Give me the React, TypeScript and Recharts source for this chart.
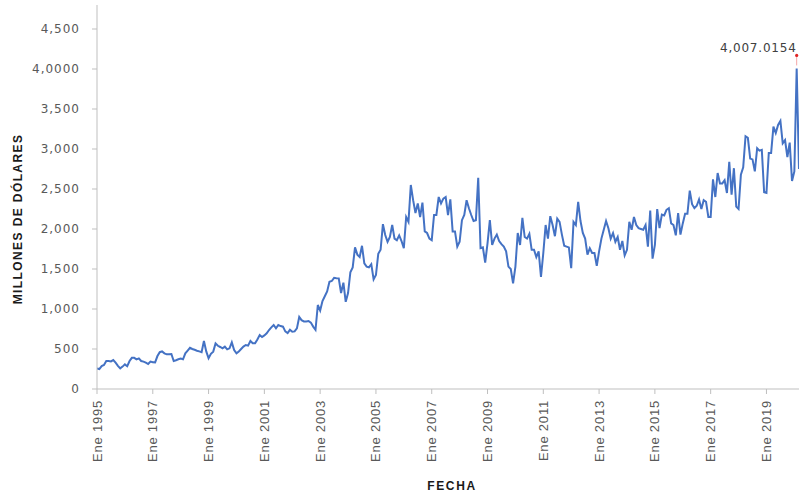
import React from "react";
import { LineChart, Line, XAxis, YAxis, LabelList } from "recharts";

const months = ["Ene", "Feb", "Mar", "Abr", "May", "Jun", "Jul", "Ago", "Sep", "Oct", "Nov", "Dic"];
const years = [1995, 1996, 1997, 1998, 1999, 2000, 2001, 2002, 2003, 2004, 2005, 2006, 2007, 2008, 2009, 2010, 2011, 2012, 2013, 2014, 2015, 2016, 2017, 2018, 2019, 2020];

const v1995 = [258, 250, 287, 300, 350, 350, 345, 362, 330, 290, 258, 280];
const v1996 = [308, 285, 350, 390, 390, 371, 383, 350, 342, 329, 312, 342];
const v1997 = [335, 333, 412, 460, 470, 446, 433, 435, 437, 350, 360, 371];
const v1998 = [380, 371, 446, 480, 515, 500, 490, 479, 470, 460, 600, 470];
const v1999 = [385, 440, 467, 570, 540, 525, 508, 530, 495, 508, 583, 487];
const v2000 = [446, 470, 500, 530, 550, 542, 600, 571, 571, 620, 675, 650];
const v2001 = [670, 696, 737, 770, 800, 758, 800, 787, 779, 720, 700, 740];
const v2002 = [715, 720, 758, 900, 860, 845, 845, 850, 830, 780, 740, 1050];
const v2003 = [980, 1100, 1160, 1220, 1340, 1350, 1390, 1385, 1383, 1200, 1330, 1090];
const v2004 = [1200, 1460, 1520, 1770, 1680, 1650, 1790, 1570, 1530, 1520, 1560, 1370];
const v2005 = [1425, 1690, 1740, 2060, 1925, 1840, 1900, 2050, 1880, 1860, 1920, 1850];
const v2006 = [1760, 2150, 2090, 2550, 2360, 2200, 2320, 2150, 2330, 1970, 1950, 1880];
const v2007 = [1860, 2175, 2175, 2400, 2320, 2380, 2400, 2175, 2370, 1970, 1970, 1780];
const v2008 = [1840, 2110, 2175, 2360, 2260, 2175, 2100, 2110, 2640, 1760, 1770, 1580];
const v2009 = [1820, 2110, 1800, 1880, 1930, 1850, 1810, 1780, 1720, 1530, 1500, 1320];
const v2010 = [1530, 1950, 1800, 2140, 1900, 1880, 1940, 1740, 1740, 1650, 1720, 1400];
const v2011 = [1700, 2050, 1880, 2160, 2050, 1910, 2130, 2090, 1930, 1790, 1780, 1770];
const v2012 = [1510, 2090, 2050, 2340, 2100, 1950, 1880, 1680, 1760, 1700, 1700, 1540];
const v2013 = [1720, 1880, 1990, 2100, 2010, 1880, 1950, 1840, 1900, 1740, 1850, 1670];
const v2014 = [1740, 2090, 1990, 2150, 2050, 2010, 2000, 1990, 2050, 1780, 2230, 1630];
const v2015 = [1800, 2250, 2010, 2180, 2170, 2240, 2260, 2070, 2050, 1920, 2200, 1930];
const v2016 = [2070, 2190, 2190, 2480, 2310, 2260, 2290, 2370, 2250, 2360, 2340, 2150];
const v2017 = [2150, 2620, 2400, 2700, 2570, 2570, 2610, 2450, 2840, 2430, 2760, 2280];
const v2018 = [2250, 2680, 2770, 3160, 3140, 2880, 2870, 2720, 3010, 2980, 2990, 2460];
const v2019 = [2450, 2950, 2950, 3280, 3200, 3300, 3350, 3070, 3110, 2900, 3080, 2600];
const v2020 = [2720, 4007.0154, 2750];

const yearValues = [v1995, v1996, v1997, v1998, v1999, v2000, v2001, v2002, v2003, v2004, v2005, v2006, v2007, v2008, v2009, v2010, v2011, v2012, v2013, v2014, v2015, v2016, v2017, v2018, v2019, v2020];

const xTickLabels = ["Ene 1995", "Ene 1997", "Ene 1999", "Ene 2001", "Ene 2003", "Ene 2005", "Ene 2007", "Ene 2009", "Ene 2011", "Ene 2013", "Ene 2015", "Ene 2017", "Ene 2019"];
const yTicks = [0, 500, 1000, 1500, 2000, 2500, 3000, 3500, 4000, 4500];
const yTickLabels = ["0", "500", "1,000", "1,500", "2,000", "2,500", "3,000", "3,500", "4,0000", "4,500"];
const yTitle = "MILLONES DE DÓLARES";
const xTitle = "FECHA";

const data = years
  .flatMap((yr, yi) => yearValues[yi].map((v, m) => ({ label: `${months[m]} ${yr}`, value: v })))
  .map((d, i) => ({ ...d, idx: i }));

const xTicks = xTickLabels.map((l) => data.findIndex((d) => d.label === l));
const peakIndex = data.reduce((best, d, i) => (d.value > data[best].value ? i : best), 0);

const XTick = (props: any) => {
  const { x, y, payload } = props;
  const item = data[payload.value];
  return (
    <text
      x={x}
      y={y}
      transform={`rotate(-90, ${x}, ${y})`}
      textAnchor="end"
      dy="0.35em"
      fontSize={13}
      fontFamily="'Liberation Sans', Arial, sans-serif"
      fill="#595959"
      letterSpacing={0.8}
    >
      {item ? item.label : ""}
    </text>
  );
};

const YTick = (props: any) => {
  const { x, y, payload } = props;
  const i = yTicks.indexOf(payload.value);
  return (
    <text
      x={x}
      y={y}
      textAnchor="end"
      dy="0.35em"
      fontSize={12}
      fontFamily="'DejaVu Sans', sans-serif"
      fill="#595959"
      letterSpacing={1}
    >
      {i >= 0 ? yTickLabels[i] : payload.value}
    </text>
  );
};

const PeakMark = (props: any) => {
  const { x, y, index, value } = props;
  if (index !== peakIndex) return null;
  const txt = Number(value).toLocaleString("en-US", { minimumFractionDigits: 4, maximumFractionDigits: 4 });
  return (
    <g>
      <line x1={x} y1={y - 3} x2={x} y2={y - 13} stroke="#f4a6a6" strokeWidth={1} />
      <circle cx={x} cy={y - 13} r={1.6} fill="#e02424" />
      <text
        x={x}
        y={y - 16}
        textAnchor="end"
        fontSize={12}
        fontFamily="'DejaVu Sans', sans-serif"
        fill="#404040"
        letterSpacing={0.8}
      >
        {txt}
      </text>
    </g>
  );
};

const YTitle = (props: any) => {
  const vb = props.viewBox || { x: 0, y: 5, width: 97, height: 384 };
  const cx = vb.x + 21.5;
  const cy = vb.y + vb.height / 2 + 22;
  return (
    <text
      x={cx}
      y={cy}
      transform={`rotate(-90, ${cx}, ${cy})`}
      textAnchor="middle"
      fontSize={12}
      fontWeight="bold"
      fontFamily="'Liberation Sans', Arial, sans-serif"
      fill="#1a1a1a"
      letterSpacing={1.4}
    >
      {yTitle}
    </text>
  );
};

const XTitle = (props: any) => {
  const vb = props.viewBox || { x: 97, y: 389, width: 702, height: 106 };
  return (
    <text
      x={vb.x + vb.width / 2 + 4}
      y={vb.y + 101}
      textAnchor="middle"
      fontSize={12}
      fontWeight="bold"
      fontFamily="'Liberation Sans', Arial, sans-serif"
      fill="#1a1a1a"
      letterSpacing={1.6}
    >
      {xTitle}
    </text>
  );
};

export default function App() {
  return (
    <div style={{ position: "absolute", left: 0, top: 0, width: 799, height: 495, background: "#fff" }}>
      <LineChart width={799} height={495} data={data} margin={{ top: 5, right: 0, left: 0, bottom: 0 }}>
        <XAxis
          type="number"
          dataKey="idx"
          domain={[0, data.length - 1]}
          ticks={xTicks}
          interval={0}
          height={106}
          tickSize={5}
          tickMargin={6}
          stroke="#bfbfbf"
          tick={<XTick />}
          label={<XTitle />}
          allowDataOverflow
        />
        <YAxis
          type="number"
          domain={[0, 4800]}
          ticks={yTicks}
          interval={0}
          width={97}
          tickSize={5}
          tickMargin={12}
          stroke="#bfbfbf"
          tick={<YTick />}
          label={<YTitle />}
          allowDataOverflow
        />
        <Line
          type="linear"
          dataKey="value"
          stroke="#4472C4"
          strokeWidth={2}
          dot={false}
          isAnimationActive={false}
        >
          <LabelList dataKey="value" content={<PeakMark />} />
        </Line>
      </LineChart>
    </div>
  );
}
